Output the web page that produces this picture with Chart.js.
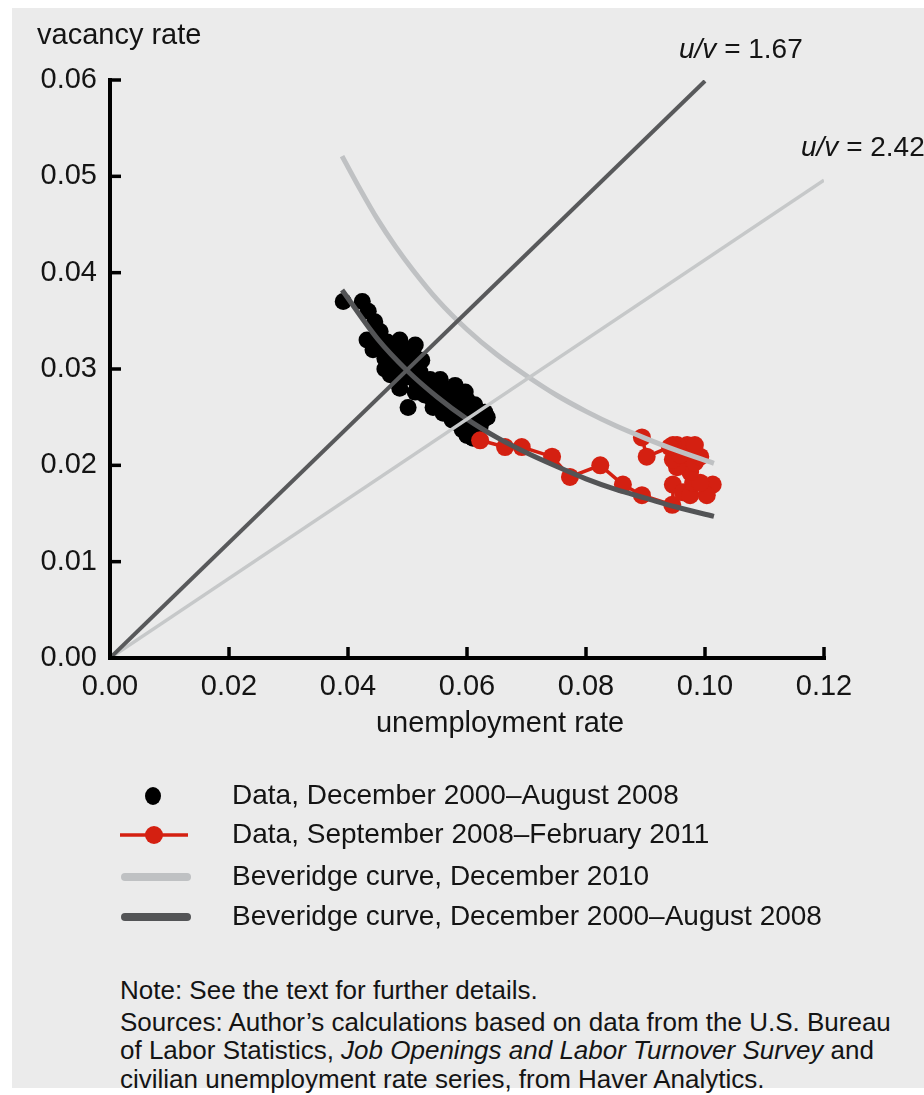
<!DOCTYPE html>
<html><head><meta charset="utf-8">
<script src="https://cdn.jsdelivr.net/npm/chart.js@4.4.1/dist/chart.umd.min.js"></script>
<style>
html,body{margin:0;padding:0;background:#fff;}
#bg{position:absolute;left:12px;top:8px;width:912px;height:1080px;background:#ebebeb;}
#wrap{position:absolute;left:0;top:0;width:924px;height:960px;}
#notes{position:absolute;left:120px;top:976px;font-family:"Liberation Sans",Arial,sans-serif;font-size:26px;line-height:28.5px;color:#141414;white-space:nowrap;}
</style></head><body>
<div id="bg"></div>
<div id="wrap"><canvas id="c"></canvas></div>
<div id="notes"><div style="margin-bottom:3px">Note: See the text for further details.</div><div>Sources: Author’s calculations based on data from the U.S. Bureau<br>of Labor Statistics, <i>Job Openings and Labor Turnover Survey</i> and<br>civilian unemployment rate series, from Haver Analytics.</div></div>
<script>
// ---- data ----
const xTicks = [0, 0.02, 0.04, 0.06, 0.08, 0.10, 0.12];
const yTicks = [0, 0.01, 0.02, 0.03, 0.04, 0.05, 0.06];
const xTitle = 'unemployment rate';
const yTitle = 'vacancy rate';
const ratioLabels = ['1.67', '2.42'];

// Data, December 2000–August 2008 (unemployment, vacancy)
const blackU = [0.0392,0.0424,0.0434,0.0445,0.0432,0.0449,0.0466,0.0482,0.0499,0.0509,0.0524,0.0442,0.0462,0.0474,0.0484,0.0501,0.0516,0.0538,0.0555,0.0568,0.0588,0.0600,0.0501,0.0543,0.0560,0.0575,0.0588,0.0600,0.0610,0.0627,0.0634,0.0622,0.0454,0.0479,0.0491,0.0504,0.0521,0.0534,0.0551,0.0563,0.0580,0.0593,0.0605,0.0555,0.0529,0.0513,0.0571,0.0585,0.0613,0.0474,0.0492,0.0546,0.0575,0.0597,0.0454,0.0605,0.0487,0.0513,0.0471,0.0487,0.0521,0.0592,0.0580,0.0597,0.0613,0.0630,0.0462,0.0540,0.0568];
const blackV = [0.0370,0.0370,0.0360,0.0349,0.0330,0.0330,0.0328,0.0323,0.0320,0.0317,0.0309,0.0320,0.0311,0.0302,0.0289,0.0292,0.0285,0.0289,0.0289,0.0278,0.0271,0.0268,0.0260,0.0260,0.0254,0.0247,0.0242,0.0231,0.0228,0.0247,0.0250,0.0240,0.0322,0.0315,0.0307,0.0301,0.0297,0.0280,0.0275,0.0268,0.0263,0.0255,0.0249,0.0266,0.0273,0.0276,0.0257,0.0252,0.0242,0.0320,0.0297,0.0283,0.0273,0.0247,0.0339,0.0260,0.0330,0.0325,0.0294,0.0280,0.0276,0.0237,0.0283,0.0276,0.0263,0.0255,0.0300,0.0270,0.0265];

// Data, September 2008–February 2011 (monthly, in order)
const redU = [0.0622,0.0664,0.0692,0.0743,0.0773,0.0824,0.0862,0.0894,0.0945,0.0946,0.0963,0.0975,0.0980,0.1013,0.1003,0.0992,0.0975,0.0975,0.0983,0.0992,0.0970,0.0953,0.0946,0.0958,0.0953,0.0946,0.0983,0.0941,0.0902,0.0894];
const redV = [0.0226,0.0219,0.0219,0.0209,0.0188,0.0200,0.0180,0.0169,0.0159,0.0180,0.0172,0.0169,0.0182,0.0180,0.0169,0.0182,0.0193,0.0203,0.0203,0.0209,0.0221,0.0198,0.0206,0.0211,0.0221,0.0221,0.0221,0.0219,0.0209,0.0229];

// Beveridge curve, December 2010
const bev2010U = [0.039,0.042,0.045,0.048,0.051,0.055,0.060,0.065,0.070,0.075,0.080,0.085,0.090,0.095,0.1015];
const bev2010V = [0.0521,0.0487,0.0455,0.0427,0.0402,0.0372,0.0341,0.0315,0.0293,0.0273,0.0256,0.0241,0.0228,0.0216,0.0202];

// Beveridge curve, December 2000–August 2008
const bev0008U = [0.039,0.045,0.050,0.055,0.060,0.065,0.070,0.075,0.080,0.085,0.090,0.095,0.1015];
const bev0008V = [0.0382,0.0331,0.0298,0.0271,0.0248,0.0229,0.0213,0.0199,0.0186,0.0175,0.0166,0.0157,0.0147];

// u/v ratio rays
const ray167U = [0, 0.100];
const ray167V = [0, 0.0599];
const ray242U = [0, 0.120];
const ray242V = [0, 0.0496];

const zip = (a, b) => a.map((v, i) => ({x: v, y: b[i]}));
const FONT = '"Liberation Sans", Arial, Helvetica, sans-serif';
const TXT = '#141414';
const RED = '#d42011';

const datasets = [
  {label: 'u/v = 1.67', data: zip(ray167U, ray167V), showLine: true, pointRadius: 0, borderColor: '#58595b', borderWidth: 4, legend: false},
  {label: 'u/v = 2.42', data: zip(ray242U, ray242V), showLine: true, pointRadius: 0, borderColor: '#c6c8c9', borderWidth: 3.5, legend: false},
  {label: 'Beveridge curve, December 2000\u2013August 2008', data: zip(bev0008U, bev0008V), showLine: true, pointRadius: 0, borderColor: '#535456', borderWidth: 5, cubicInterpolationMode: 'monotone', legend: 4},
  {label: 'Beveridge curve, December 2010', data: zip(bev2010U, bev2010V), showLine: true, pointRadius: 0, borderColor: '#bfc1c3', borderWidth: 5, cubicInterpolationMode: 'monotone', legend: 3},
  {label: 'Data, September 2008\u2013February 2011', data: zip(redU, redV), showLine: true, pointRadius: 9, pointBackgroundColor: RED, pointBorderWidth: 0, borderColor: RED, borderWidth: 3.5, legend: 2},
  {label: 'Data, December 2000\u2013August 2008', data: zip(blackU, blackV), showLine: false, pointRadius: 8.5, pointBackgroundColor: '#000', pointBorderWidth: 0, borderColor: '#000', legend: 1}
];

const decor = {
  id: 'decor',
  afterDatasetsDraw(chart) {
    const {ctx, chartArea: a, scales: {x, y}} = chart;
    ctx.save();
    ctx.strokeStyle = '#000';
    ctx.lineWidth = 4;
    ctx.lineCap = 'square';
    ctx.beginPath();
    ctx.moveTo(a.left, a.top); ctx.lineTo(a.left, a.bottom); ctx.lineTo(a.right, a.bottom);
    ctx.stroke();
    ctx.lineCap = 'butt';
    ctx.lineWidth = 3.5;
    xTicks.forEach(v => { if (v === 0) return; const px = x.getPixelForValue(v);
      ctx.beginPath(); ctx.moveTo(px, a.bottom); ctx.lineTo(px, a.bottom - 11); ctx.stroke(); });
    yTicks.forEach(v => { if (v === 0) return; const py = y.getPixelForValue(v);
      ctx.beginPath(); ctx.moveTo(a.left, py); ctx.lineTo(a.left + 11, py); ctx.stroke(); });
    ctx.restore();
  },
  afterDraw(chart) {
    const {ctx, scales: {x, y}} = chart;
    ctx.save();
    ctx.fillStyle = TXT;
    ctx.textBaseline = 'middle';
    ctx.font = '29px ' + FONT;
    ctx.textAlign = 'left';
    ctx.fillText(yTitle, 37, 36);
    ctx.textAlign = 'center';
    ctx.fillText(xTitle, 500, 724);
    // ratio labels
    const ends = [[ray167U[1], ray167V[1]], [ray242U[1], ray242V[1]]];
    const offs = [[-26, -31], [-23, -32]];
    ratioLabels.forEach((r, i) => {
      let px = x.getPixelForValue(ends[i][0]) + offs[i][0];
      const py = y.getPixelForValue(ends[i][1]) + offs[i][1];
      ctx.textAlign = 'left';
      ctx.font = 'italic 28px ' + FONT;
      ctx.fillText('u/v', px, py);
      px += ctx.measureText('u/v').width;
      ctx.font = '28px ' + FONT;
      ctx.fillText(' = ' + r, px, py);
    });
    // legend
    const rows = [796, 835, 877, 917];
    const items = chart.data.datasets.filter(d => d.legend).sort((p, q) => p.legend - q.legend);
    items.forEach((d, i) => {
      const cy = rows[i];
      if (d.legend === 1) {
        ctx.fillStyle = d.pointBackgroundColor;
        ctx.beginPath(); ctx.ellipse(153, cy, 8, 9, 0, 0, Math.PI * 2); ctx.fill();
      } else if (d.legend === 2) {
        ctx.strokeStyle = d.borderColor; ctx.lineWidth = 3.5;
        ctx.beginPath(); ctx.moveTo(120, cy); ctx.lineTo(188, cy); ctx.stroke();
        ctx.fillStyle = d.pointBackgroundColor;
        ctx.beginPath(); ctx.arc(154, cy, 9, 0, Math.PI * 2); ctx.fill();
      } else {
        ctx.strokeStyle = d.borderColor; ctx.lineWidth = 8; ctx.lineCap = 'round';
        ctx.beginPath(); ctx.moveTo(125, cy); ctx.lineTo(187, cy); ctx.stroke();
      }
      ctx.fillStyle = TXT;
      ctx.font = '28px ' + FONT;
      ctx.textAlign = 'left';
      ctx.fillText(d.label, 232, cy);
    });
    ctx.restore();
  }
};

new Chart(document.getElementById('c'), {
  type: 'scatter',
  data: {datasets},
  plugins: [decor],
  options: {
    responsive: true,
    maintainAspectRatio: false,
    animation: false,
    events: [],
    layout: {padding: {left: 0, top: 80, right: 100, bottom: 252}},
    plugins: {legend: {display: false}, tooltip: {enabled: false}},
    scales: {
      x: {
        type: 'linear', min: 0, max: 0.12,
        afterBuildTicks: s => { s.ticks = xTicks.map(v => ({value: v})); },
        afterFit: s => { s.height = 50; },
        grid: {display: false, drawTicks: false},
        border: {display: false},
        ticks: {padding: 12, color: TXT, font: {family: FONT, size: 29}, maxRotation: 0, callback: v => v.toFixed(2)}
      },
      y: {
        type: 'linear', min: 0, max: 0.06,
        afterBuildTicks: s => { s.ticks = yTicks.map(v => ({value: v})); },
        afterFit: s => { s.width = 110; },
        grid: {display: false, drawTicks: false},
        border: {display: false},
        ticks: {padding: 13, color: TXT, font: {family: FONT, size: 29}, callback: v => v.toFixed(2)}
      }
    }
  }
});
</script>
</body></html>
